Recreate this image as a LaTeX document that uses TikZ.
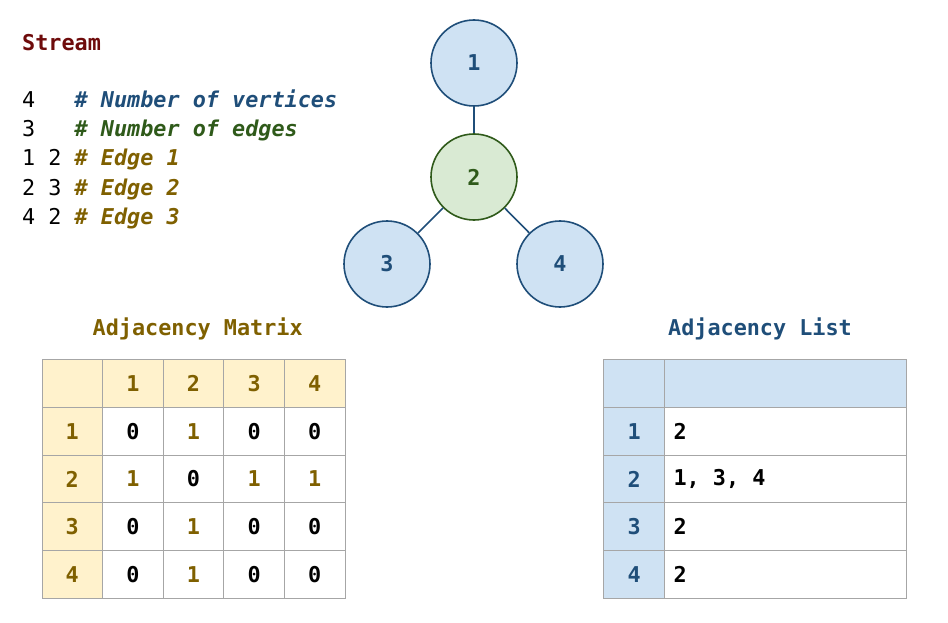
\documentclass[tikz,border=0pt]{standalone}
\usepackage{fontspec}
\setmonofont{DejaVu Sans Mono}
\definecolor{streamred}{HTML}{6E0B0B}
\definecolor{cblue}{HTML}{1F4E79}
\definecolor{cgreen}{HTML}{2F5A1A}
\definecolor{colive}{HTML}{7F6000}
\definecolor{fblue}{HTML}{CFE2F3}
\definecolor{fgreen}{HTML}{D9EAD3}
\definecolor{fbeige}{HTML}{FFF2CC}
\definecolor{gridgray}{HTML}{A6A6A6}
\begin{document}
\begin{tikzpicture}[x=1pt,y=-1pt,
  txt/.style={font=\ttfamily\fontsize{21.8}{26}\selectfont, inner sep=0pt},
  btxt/.style={font=\ttfamily\bfseries\fontsize{21.8}{26}\selectfont, inner sep=0pt},
  vtx/.style={circle, draw, line width=1.6pt, minimum size=86pt, inner sep=0pt,
    font=\ttfamily\bfseries\fontsize{21.8}{26}\selectfont},
  edgeline/.style={draw=cblue, line width=1.6pt},
  mcell/.style={rectangle, draw=gridgray, line width=1pt, minimum width=60.6pt,
    minimum height=47.7pt, inner sep=0pt, anchor=north west,
    font=\ttfamily\bfseries\fontsize{21.8}{26}\selectfont},
  wcell/.style={mcell, minimum width=242pt}
]
\useasboundingbox (0,0) rectangle (948,623);
% Stream text
\node[btxt, text=streamred, anchor=base west] (stitle) at (22,51) {Stream};
\node[txt, anchor=base west] (s1) at (22,108) {4\ \ \ \textcolor{cblue}{\bfseries\itshape\# Number of vertices}};
\node[txt, anchor=base west] (s2) at (22,137) {3\ \ \ \textcolor{cgreen}{\bfseries\itshape\# Number of edges}};
\node[txt, anchor=base west] (s3) at (22,166) {1 2 \textcolor{colive}{\bfseries\itshape\# Edge 1}};
\node[txt, anchor=base west] (s4) at (22,195) {2 3 \textcolor{colive}{\bfseries\itshape\# Edge 2}};
\node[txt, anchor=base west] (s5) at (22,224) {4 2 \textcolor{colive}{\bfseries\itshape\# Edge 3}};
% Graph
\node[vtx, draw=cblue, fill=fblue, text=cblue] (v1) at (474,63) {1};
\node[vtx, draw=cgreen, fill=fgreen, text=cgreen] (v2) at (474,177) {2};
\node[vtx, draw=cblue, fill=fblue, text=cblue] (v3) at (387,264) {3};
\node[vtx, draw=cblue, fill=fblue, text=cblue] (v4) at (560,264) {4};
\draw[edgeline] (v1) -- (v2);
\draw[edgeline] (v2) -- (v3);
\draw[edgeline] (v2) -- (v4);
% Titles
\node[btxt, text=colive, anchor=base] (tm) at (197.7,335) {Adjacency Matrix};
\node[btxt, text=cblue, anchor=base] (tl) at (760,335) {Adjacency List};
% Matrix
\foreach \c in {0,...,4}{
  \foreach \r in {0,...,4}{
    \pgfmathsetmacro{\xx}{41.5+60.6*\c}
    \pgfmathsetmacro{\yy}{359.3+47.7*\r}
    \ifnum\c=0
      \node[mcell, fill=fbeige] (m\r\c) at (\xx,\yy) {};
    \else\ifnum\r=0
      \node[mcell, fill=fbeige] (m\r\c) at (\xx,\yy) {};
    \else
      \node[mcell, fill=white] (m\r\c) at (\xx,\yy) {};
    \fi\fi
  }
}
\foreach \k in {1,...,4}{
  \node[btxt, text=colive] at (m0\k.center) {\k};
  \node[btxt, text=colive] at (m\k0.center) {\k};
}
\node[btxt] at (m11.center) {0};
\node[btxt, text=colive] at (m12.center) {1};
\node[btxt] at (m13.center) {0};
\node[btxt] at (m14.center) {0};
\node[btxt, text=colive] at (m21.center) {1};
\node[btxt] at (m22.center) {0};
\node[btxt, text=colive] at (m23.center) {1};
\node[btxt, text=colive] at (m24.center) {1};
\node[btxt] at (m31.center) {0};
\node[btxt, text=colive] at (m32.center) {1};
\node[btxt] at (m33.center) {0};
\node[btxt] at (m34.center) {0};
\node[btxt] at (m41.center) {0};
\node[btxt, text=colive] at (m42.center) {1};
\node[btxt] at (m43.center) {0};
\node[btxt] at (m44.center) {0};
% List
\foreach \r in {0,...,4}{
  \pgfmathsetmacro{\yy}{359.3+47.7*\r}
  \node[mcell, fill=fblue] (l\r a) at (603.3,\yy) {};
  \ifnum\r=0
    \node[wcell, fill=fblue] (l\r b) at (663.9,\yy) {};
  \else
    \node[wcell, fill=white] (l\r b) at (663.9,\yy) {};
    \node[btxt, text=cblue] at (l\r a.center) {\r};
  \fi
}
\node[btxt, anchor=west] at ([xshift=9.5pt]l1b.west) {2};
\node[btxt, anchor=west] at ([xshift=9.5pt]l2b.west) {1, 3, 4};
\node[btxt, anchor=west] at ([xshift=9.5pt]l3b.west) {2};
\node[btxt, anchor=west] at ([xshift=9.5pt]l4b.west) {2};
\end{tikzpicture}
\end{document}
